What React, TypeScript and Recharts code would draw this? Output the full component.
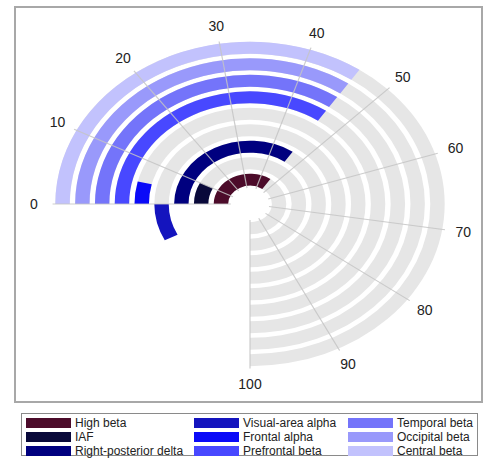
import React from 'react';
import {
  RadialBarChart,
  RadialBar,
  PolarAngleAxis,
  PolarRadiusAxis,
  PolarGrid,
  Cell,
} from 'recharts';

const categories = [
  'High beta',
  'IAF',
  'Right-posterior delta',
  'Visual-area alpha',
  'Frontal alpha',
  'Prefrontal beta',
  'Temporal beta',
  'Occipital beta',
  'Central beta',
];
const values = [46, 10, 46, -10, 5, 46, 46, 46, 46];
const colors = [
  '#4c0b2a',
  '#09093a',
  '#00007f',
  '#1414be',
  '#0a0af8',
  '#4848ff',
  '#7474fa',
  '#9999fb',
  '#c2c2fd',
];
const angleTicks = [0, 10, 20, 30, 40, 50, 60, 70, 80, 90, 100];

const data = categories.map((name, i) => ({ name, value: values[i] }));

// angular layout: value 0 at 9 o'clock, 100 at 6 o'clock (clockwise, 270 deg)
const ANGLE_DOMAIN: [number, number] = [-10, 100];
const ZERO_ANGLE = 180;
const DEG_PER_UNIT = 270 / 100;
const START_ANGLE = ZERO_ANGLE - ANGLE_DOMAIN[0] * DEG_PER_UNIT;
const END_ANGLE = ZERO_ANGLE - ANGLE_DOMAIN[1] * DEG_PER_UNIT;
const TRACK_END = ZERO_ANGLE - 100 * DEG_PER_UNIT;

const SX = 1.2;
const FONT = '"Liberation Sans", Arial, sans-serif';
const CHART_W = 395;
const CHART_H = 392;

const AngleTick = (props: any) => {
  const { x, y, payload } = props;
  return (
    <text
      transform={`translate(${x},${y}) scale(${1 / SX},1)`}
      textAnchor="middle"
      dominantBaseline="central"
      fontSize={14}
      fill="#222"
      fontFamily={FONT}
    >
      {payload.value}
    </text>
  );
};

const layerStyle: React.CSSProperties = {
  position: 'absolute',
  left: 10,
  top: 8,
  width: CHART_W,
  height: CHART_H,
  transform: `scaleX(${SX})`,
  transformOrigin: '0 0',
};

const common = {
  width: CHART_W,
  height: CHART_H,
  data,
  cx: 200,
  cy: 196,
  innerRadius: 16,
  outerRadius: 164.5,
  barCategoryGap: '13.5%',
  margin: { top: 0, right: 0, bottom: 0, left: 0 },
};

export default function App() {
  return (
    <div
      style={{
        position: 'absolute',
        left: 0,
        top: 0,
        width: 485,
        height: 461,
        overflow: 'hidden',
        background: '#fff',
        fontFamily: FONT,
      }}
    >
      <div
        style={{
          position: 'absolute',
          left: 14,
          top: 6,
          width: 465,
          height: 393,
          border: '2px solid #a8a8a8',
        }}
      />
      {/* grey tracks: 0 .. 100 */}
      <div style={layerStyle}>
        <RadialBarChart {...common} startAngle={ZERO_ANGLE} endAngle={TRACK_END}>
          <PolarRadiusAxis
            type="category"
            dataKey="name"
            tick={false}
            tickLine={false}
            axisLine={false}
          />
          <RadialBar
            dataKey="value"
            background={{ fill: '#e6e6e6' }}
            fill="transparent"
            fillOpacity={0}
            isAnimationActive={false}
          />
        </RadialBarChart>
      </div>
      {/* value bars, spokes and angle labels */}
      <div style={layerStyle}>
        <RadialBarChart {...common} startAngle={START_ANGLE} endAngle={END_ANGLE}>
          <PolarAngleAxis
            type="number"
            domain={ANGLE_DOMAIN}
            ticks={angleTicks}
            tick={<AngleTick />}
            tickLine={false}
            axisLine={false}
            tickSize={15.5}
          />
          <PolarRadiusAxis
            type="category"
            dataKey="name"
            tick={false}
            tickLine={false}
            axisLine={false}
          />
          <RadialBar dataKey="value" isAnimationActive={false}>
            {data.map((d, i) => (
              <Cell key={d.name} fill={colors[i]} />
            ))}
          </RadialBar>
          <PolarGrid
            gridType="circle"
            polarRadius={[]}
            stroke="#c4c4c4"
            strokeOpacity={0.85}
            zIndex={900}
          />
        </RadialBarChart>
      </div>
      <div
        style={{
          position: 'absolute',
          left: 21,
          top: 413,
          width: 457,
          height: 43,
          border: '1px solid #8a8a8a',
          display: 'grid',
          gridTemplateColumns: '168px 154px 1fr',
          gridTemplateRows: 'repeat(3, 14px)',
          gridAutoFlow: 'column',
          paddingTop: 2,
          boxSizing: 'border-box',
        }}
      >
        {categories.map((name, i) => (
          <div
            key={name}
            style={{
              display: 'flex',
              alignItems: 'center',
              paddingLeft: 4,
              fontSize: 12,
              lineHeight: '14px',
              color: '#222',
              whiteSpace: 'nowrap',
            }}
          >
            <span
              style={{
                display: 'inline-block',
                width: 45,
                height: 10,
                background: colors[i],
                marginRight: 4,
              }}
            />
            {name}
          </div>
        ))}
      </div>
    </div>
  );
}
